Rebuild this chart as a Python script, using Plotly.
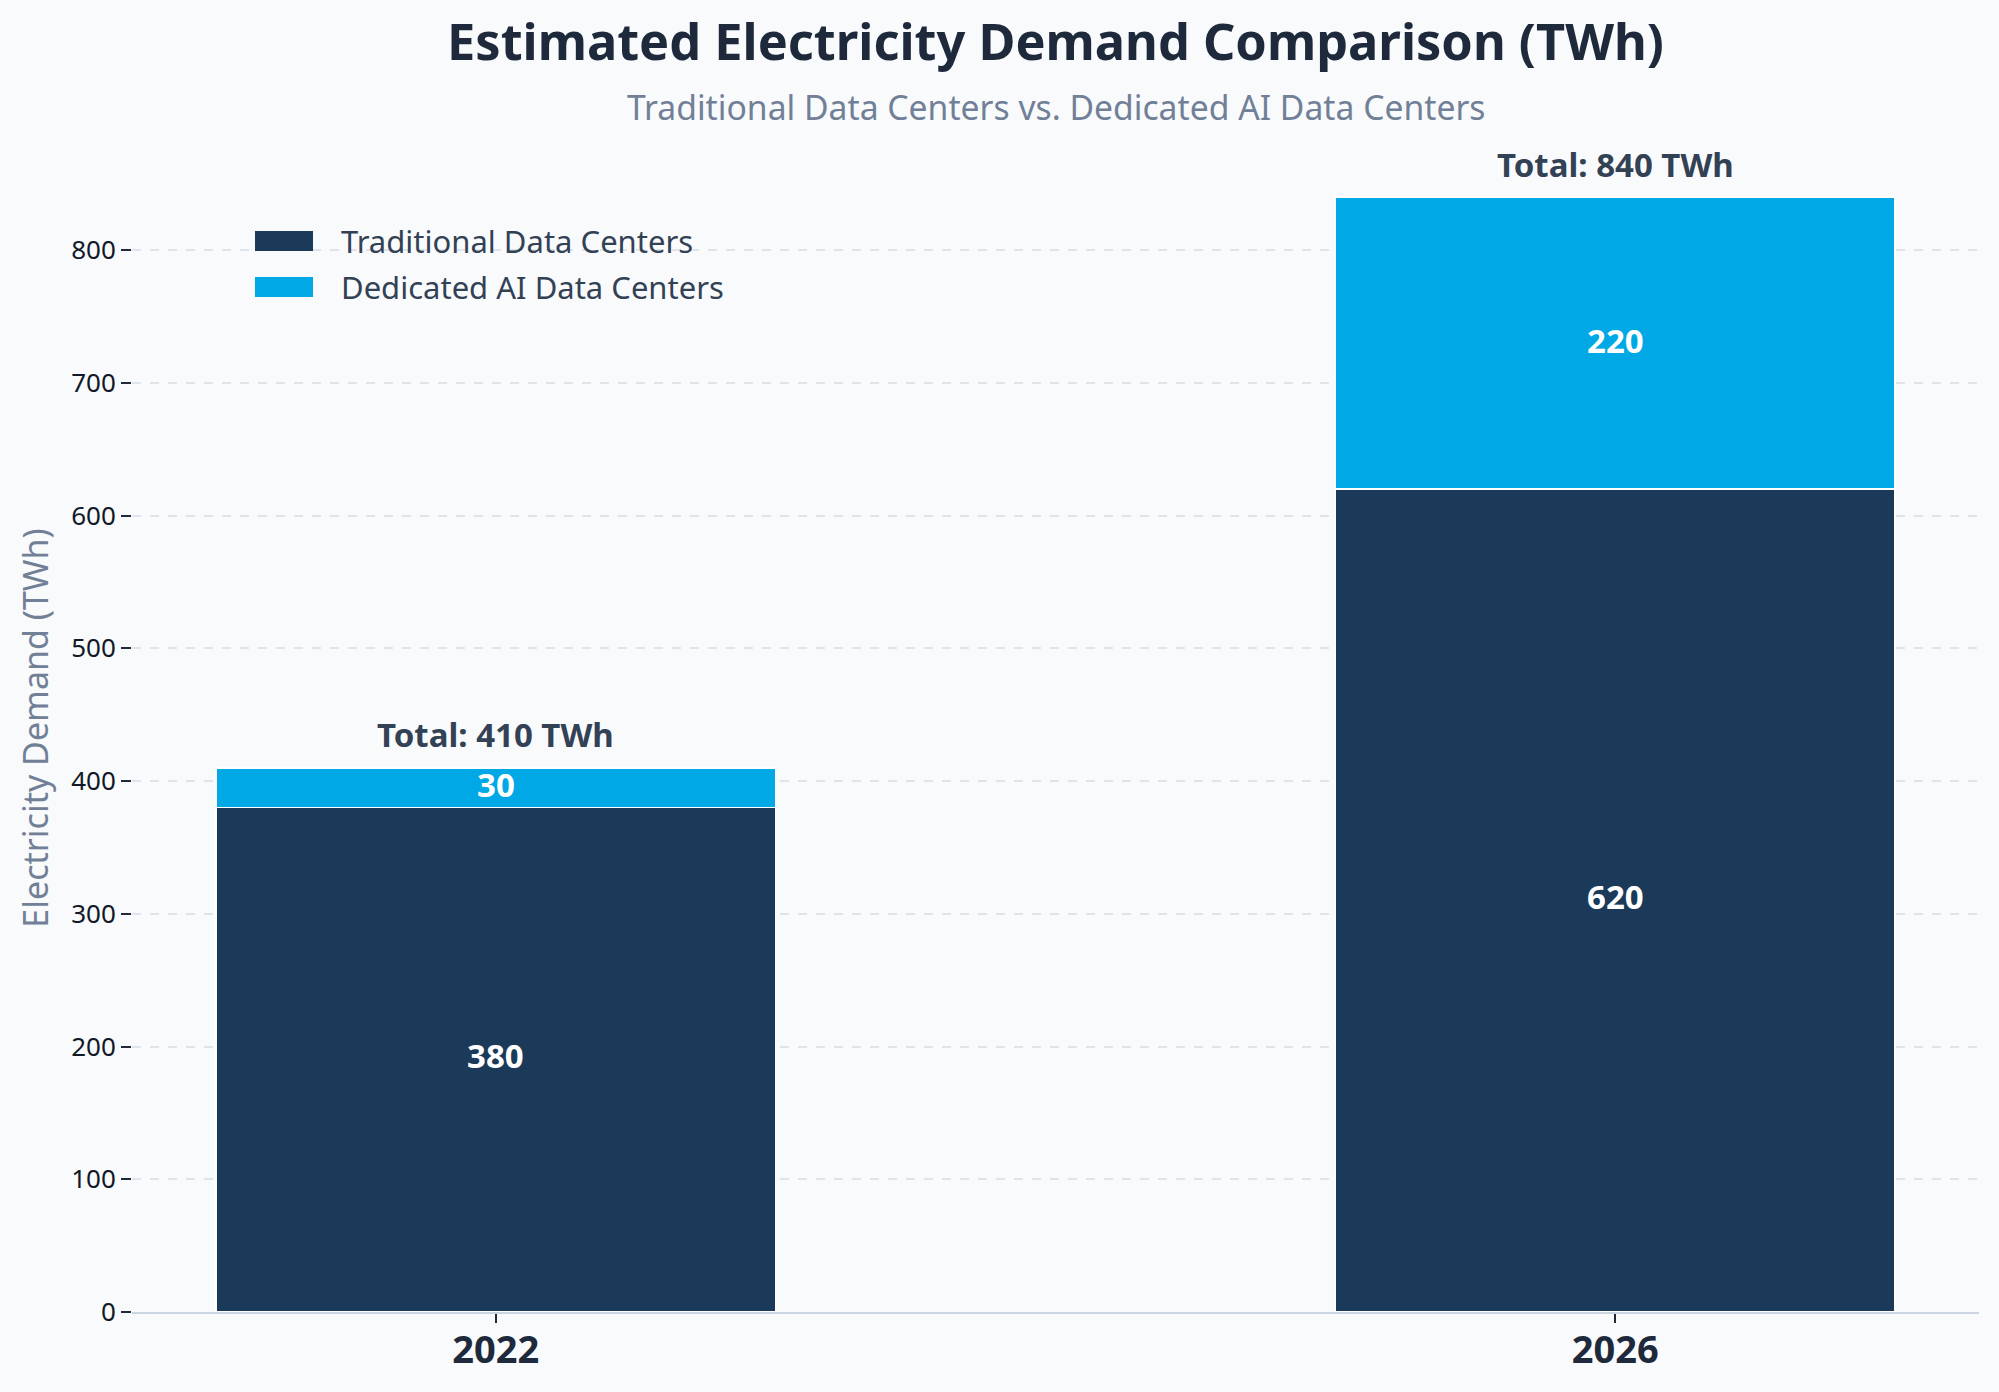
import plotly.graph_objects as go

years = ["2022", "2026"]
traditional = [380, 620]
ai = [30, 220]
totals = [t + a for t, a in zip(traditional, ai)]
y_ticks = [0, 100, 200, 300, 400, 500, 600, 700, 800]
series_names = ["Traditional Data Centers", "Dedicated AI Data Centers"]

FONT = "Noto Sans"
NAVY = "#1b3a5a"
CYAN = "#00a8e5"
BG = "#f8fafc"

W, H = 1999, 1392
L, R, T, B = 132, 20, 144, 80
PW, PH = W - L - R, H - T - B

fig = go.Figure()
fig.add_trace(go.Bar(
    x=years, y=traditional, name=series_names[0],
    marker=dict(color=NAVY, line=dict(color="white", width=1.5)),
    width=0.5, showlegend=False,
))
fig.add_trace(go.Bar(
    x=years, y=ai, name=series_names[1],
    marker=dict(color=CYAN, line=dict(color="white", width=1.5)),
    width=0.5, showlegend=False,
))

annotations = []
for i, yr in enumerate(years):
    annotations.append(dict(x=i, y=traditional[i] / 2, text=f"<b>{traditional[i]}</b>",
                            showarrow=False, yshift=4,
                            font=dict(family=FONT, size=33, color="white")))
    annotations.append(dict(x=i, y=traditional[i] + ai[i] / 2, text=f"<b>{ai[i]}</b>",
                            showarrow=False, yshift=3,
                            font=dict(family=FONT, size=33, color="white")))
    annotations.append(dict(x=i, y=totals[i], text=f"<b>Total: {totals[i]} TWh</b>",
                            showarrow=False, yshift=33,
                            font=dict(family=FONT, size=33, color="#334155")))

annotations.append(dict(
    text="Traditional Data Centers vs. Dedicated AI Data Centers",
    xref="paper", yref="paper", x=0.5, y=(H - B - 107) / PH,
    xanchor="center", yanchor="middle", showarrow=False,
    font=dict(family=FONT, size=33.7, color="#718096"),
))

# custom legend
shapes = []
leg_colors = [NAVY, CYAN]
leg_rows = [241, 287]
for name, col, yc in zip(series_names, leg_colors, leg_rows):
    shapes.append(dict(type="rect", xref="paper", yref="paper",
                       x0=(255 - L) / PW, x1=(313 - L) / PW,
                       y0=(H - B - (yc + 10)) / PH, y1=(H - B - (yc - 10)) / PH,
                       fillcolor=col, line=dict(width=0)))
    annotations.append(dict(text=name, xref="paper", yref="paper",
                            x=(339 - L) / PW, y=(H - B - yc) / PH,
                            xanchor="left", yanchor="middle", showarrow=False,
                            font=dict(family=FONT, size=31, color="#334155")))

fig.update_layout(
    barmode="stack",
    width=W, height=H,
    paper_bgcolor=BG, plot_bgcolor=BG,
    margin=dict(l=L, r=R, t=T, b=B),
    font=dict(family=FONT, color="#1e293b"),
    showlegend=False,
    title=dict(
        text="<b>Estimated Electricity Demand Comparison (TWh)</b>",
        xref="paper", x=0.5, xanchor="center", y=1 - 42 / H, yanchor="middle",
        font=dict(family=FONT, size=50.5, color="#1e293b"),
    ),
    annotations=annotations,
    shapes=shapes,
    xaxis=dict(
        type="category",
        range=[-0.325, 1.325], showgrid=False,
        showline=True, linecolor="#cbd5e1", linewidth=2,
        ticks="outside", ticklen=9, tickwidth=1.5, tickcolor="#1e293b",
        tickfont=dict(family=FONT, size=38, color="#1e293b"),
        tickprefix="<b>", ticksuffix="</b>",
        ticklabelstandoff=-6,
    ),
    yaxis=dict(
        range=[0, 880], tickvals=y_ticks,
        showgrid=True, gridcolor="#dfe4ea", griddash="dash", gridwidth=1.5,
        zeroline=False, showline=False,
        ticks="outside", ticklen=10, tickwidth=2, tickcolor="#1e293b",
        tickfont=dict(family=FONT, size=26, color="#111827"),
        title=dict(text="Electricity Demand (TWh)", font=dict(family=FONT, size=34, color="#718096"), standoff=12),
    ),
)

fig.write_html("out.html")
